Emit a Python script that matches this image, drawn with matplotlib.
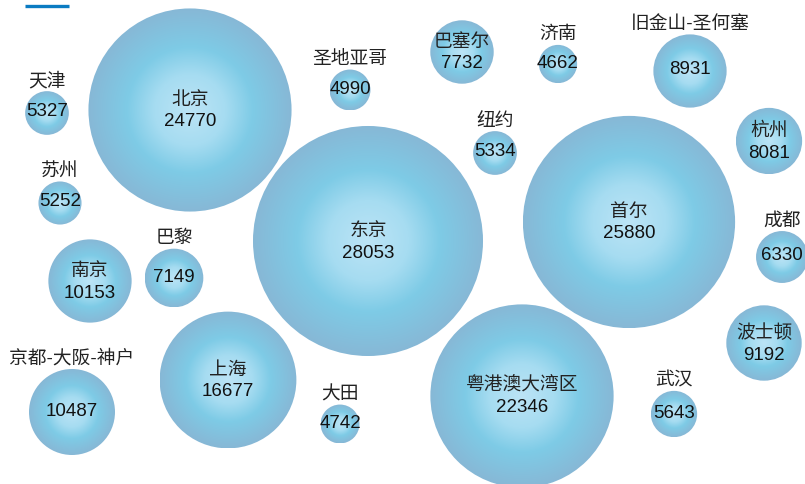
import numpy as np
import matplotlib
matplotlib.use('Agg')
import matplotlib.pyplot as plt
from matplotlib.patches import Circle
from matplotlib.colors import LinearSegmentedColormap

# Datos
ciudades = ['北京', '东京', '首尔', '粤港澳大湾区', '上海', '京都-大阪-神户', '南京',
            '波士顿', '旧金山-圣何塞', '杭州', '巴塞尔', '巴黎', '成都', '武汉',
            '纽约', '天津', '苏州', '圣地亚哥', '大田', '济南']
valores = [24770, 28053, 25880, 22346, 16677, 10487, 10153,
           9192, 8931, 8081, 7732, 7149, 6330, 5643,
           5334, 5327, 5252, 4990, 4742, 4662]

# Posiciones de las burbujas (px)
pos_x = [190, 368, 629, 522, 228, 72, 90, 764, 690, 769, 462, 174, 782, 674, 495, 47, 60, 350, 340, 558]
pos_y = [110, 241, 222, 396, 380, 412, 281, 343, 71, 141, 52, 278, 257, 414, 153, 113, 203, 90, 424, 64]

escala = 0.0041  # radio en px por unidad

fuente = ['Liberation Sans', 'Noto Sans CJK SC', 'DejaVu Sans']

cmap = LinearSegmentedColormap.from_list('burbuja', [
    (0.0, '#bce4f6'),
    (0.35, '#a6dcf1'),
    (0.62, '#7ecbe6'),
    (1.0, '#87b8d6'),
])

n = 200
gx, gy = np.meshgrid(np.linspace(-1, 1, n), np.linspace(-1, 1, n))
dist = np.clip(np.sqrt(gx ** 2 + gy ** 2), 0, 1)

fig = plt.figure(figsize=(8.05, 4.84), dpi=100)
ax = fig.add_axes([0, 0, 1, 1])
ax.set_xlim(0, 805)
ax.set_ylim(484, 0)
ax.set_aspect('equal')
ax.axis('off')

for nombre, v, cx, cy in zip(ciudades, valores, pos_x, pos_y):
    r = v * escala
    circ = Circle((cx, cy), r, facecolor='none', edgecolor='none')
    ax.add_patch(circ)
    im = ax.imshow(dist, cmap=cmap, vmin=0, vmax=1, extent=[cx - r, cx + r, cy + r, cy - r],
                   interpolation='bilinear', zorder=1)
    im.set_clip_path(circ)

    ancho_nombre = len(nombre) * 18
    if r > 30 and ancho_nombre < 2 * r * 0.95:
        ax.text(cx, cy - 10, nombre, ha='center', va='center', fontsize=13.5,
                family=fuente, color='#222222', zorder=3)
        ax.text(cx, cy + 12, str(v), ha='center', va='center', fontsize=13.5,
                family=fuente, color='#111111', zorder=3)
    else:
        ax.text(cx, cy - r - 10, nombre, ha='center', va='center', fontsize=13.5,
                family=fuente, color='#222222', zorder=3)
        ax.text(cx, cy - 1, str(v), ha='center', va='center', fontsize=13.5,
                family=fuente, color='#111111', zorder=3)

# Línea decorativa arriba a la izquierda
ax.plot([25, 69], [6, 6], color='#0a7bc2', lw=2.4, solid_capstyle='butt')

fig.savefig('out.png', dpi=100)
